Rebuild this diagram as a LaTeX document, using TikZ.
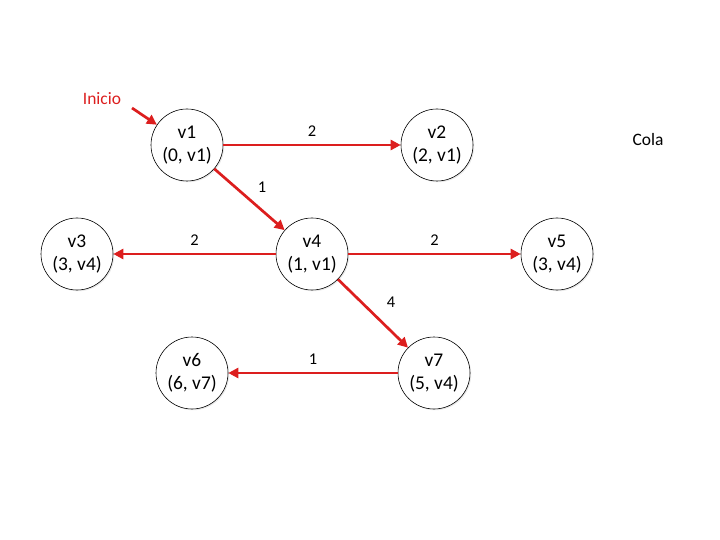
\documentclass[tikz,border=0pt]{standalone}
\usepackage{fontspec}
\setmainfont{Carlito}
\usetikzlibrary{arrows.meta,shadows}
\definecolor{ered}{RGB}{220,30,30}
\begin{document}
\begin{tikzpicture}[x=1bp,y=-1bp,
  vert/.style={circle,draw=black,line width=0.6bp,fill=white,minimum size=72bp,inner sep=0pt,
    font=\fontsize{19.5}{23}\selectfont,align=center,
    drop shadow={opacity=0.18,shadow xshift=1.2bp,shadow yshift=-1.2bp}},
  edge/.style={draw=ered,line width=2.7bp,-{Triangle[length=10bp,width=10bp]}},
  elab/.style={font=\fontsize{16.5}{19}\selectfont}]
\useasboundingbox (0,0) rectangle (720,540);
\node[vert] (v1) at (187,145) {v1\\(0, v1)};
\node[vert] (v2) at (437,145) {v2\\(2, v1)};
\node[vert] (v3) at (77,254) {v3\\(3, v4)};
\node[vert] (v4) at (312,254) {v4\\(1, v1)};
\node[vert] (v5) at (557,254) {v5\\(3, v4)};
\node[vert] (v6) at (192,373) {v6\\(6, v7)};
\node[vert] (v7) at (434,373) {v7\\(5, v4)};
\node[font=\fontsize{17.5}{20}\selectfont,text=ered] (ini) at (102,99) {Inicio};
\node[font=\fontsize{17.5}{20}\selectfont] (cola) at (648,140) {Cola};
\coordinate (is) at (132,108);
\draw[edge] (is) -- (v1);
\draw[edge] (v1) -- (v2) node[elab,pos=0.5,above=4bp] {2};
\draw[edge] (v1) -- (v4);
\node[elab] (l14) at (262,187) {1};
\draw[edge] (v4) -- (v3) node[elab,pos=0.5,above=4bp] {2};
\draw[edge] (v4) -- (v5) node[elab,pos=0.5,above=4bp] {2};
\draw[edge] (v4) -- (v7);
\node[elab] (l47) at (391,302) {4};
\draw[edge] (v7) -- (v6) node[elab,pos=0.5,above=4bp] {1};
\end{tikzpicture}
\end{document}
